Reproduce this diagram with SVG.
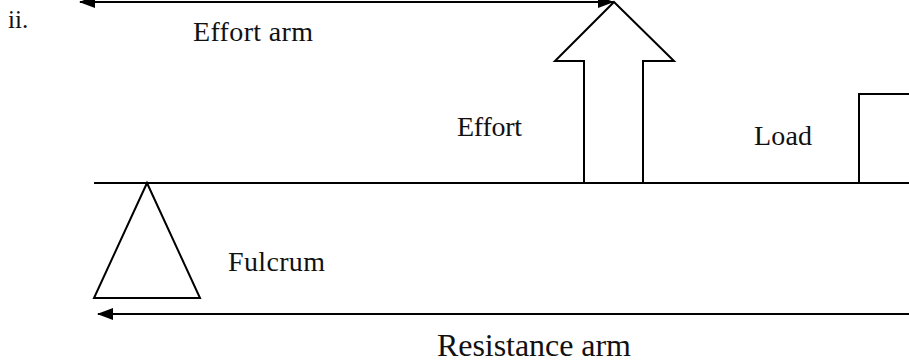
<svg xmlns="http://www.w3.org/2000/svg" width="909" height="363" viewBox="0 0 909 363">
  <style>
    .ln { stroke: #000; stroke-width: 2; fill: none; }
    .sh { stroke: #000; stroke-width: 2; fill: #fff; stroke-linejoin: miter; }
    .lb { font-family: "Liberation Serif", "Times New Roman", serif; fill: #111; font-size: 28px; }
  </style>
  <defs>
    <marker id="head" viewBox="0 0 16 12" refX="15" refY="6" markerWidth="16" markerHeight="12" markerUnits="userSpaceOnUse" orient="auto-start-reverse">
      <path d="M0,0 L16,6 L0,12 Z" fill="#000"/>
    </marker>
  </defs>
  <rect width="909" height="363" fill="#fff"/>

  <g id="label-ii">
    <text class="lb" x="8" y="28" style="font-size:25px">ii.</text>
  </g>

  <g id="connectors">
    <line class="ln" x1="80" y1="2" x2="613" y2="2" marker-start="url(#head)" marker-end="url(#head)"/>
    <line class="ln" x1="98" y1="314" x2="909" y2="314" marker-start="url(#head)"/>
  </g>

  <g id="lever">
    <line class="ln" x1="94" y1="183" x2="909" y2="183"/>
  </g>

  <g id="fulcrum">
    <polygon class="sh" points="147,183 94,298 200,298"/>
    <text class="lb" x="228" y="271" textLength="97">Fulcrum</text>
  </g>

  <g id="effort">
    <polygon class="sh" points="614,2 674,61 643,61 643,183 584,183 584,61 555,61"/>
    <text class="lb" x="457" y="136" textLength="65">Effort</text>
  </g>

  <g id="load">
    <polyline class="ln" points="859,183 859,94 909,94"/>
    <text class="lb" x="754" y="145" textLength="58">Load</text>
  </g>

  <g id="effort-arm">
    <text class="lb" x="193" y="41" textLength="120">Effort arm</text>
  </g>

  <g id="resistance-arm">
    <text class="lb" x="437" y="356" style="font-size:32px" textLength="194">Resistance arm</text>
  </g>
</svg>
